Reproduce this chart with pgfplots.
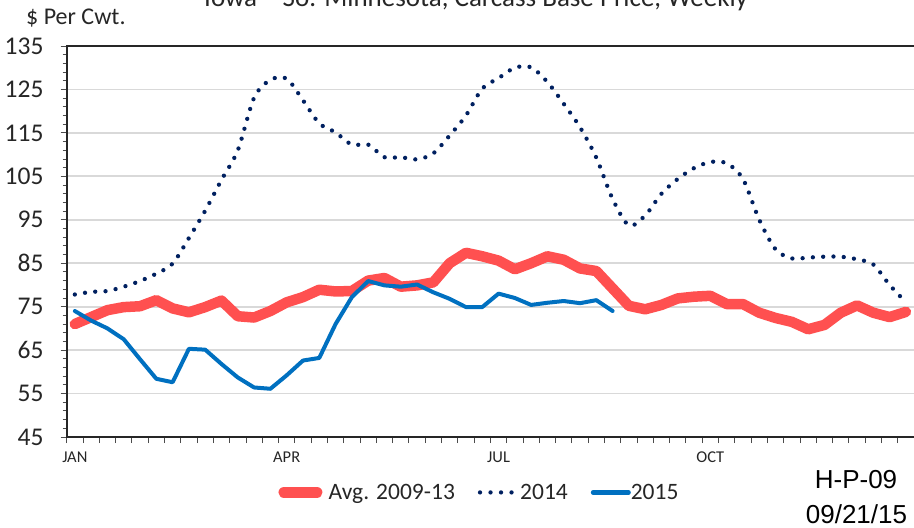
\documentclass[border=0pt]{standalone}
\usepackage{pgfplots}
\pgfplotsset{compat=1.18}
\usepackage{fontspec}
\setmainfont{Carlito}
\newfontfamily\arialfont{Liberation Sans}
\definecolor{avgred}{HTML}{FF5050}
\definecolor{navyA}{HTML}{002060}
\definecolor{blueB}{HTML}{0070C0}
\definecolor{gridgray}{HTML}{D9D9D9}
\definecolor{txt}{HTML}{262626}

\pgfplotstableread{
w v
1 71.0
2 72.6
3 74.2
4 74.9
5 75.1
6 76.5
7 74.6
8 73.7
9 74.9
10 76.4
11 72.8
12 72.5
13 74.0
14 76.0
15 77.2
16 78.9
17 78.5
18 78.6
19 81.0
20 81.6
21 79.6
22 79.9
23 80.6
24 85.0
25 87.4
26 86.6
27 85.6
28 83.6
29 85.0
30 86.6
31 85.8
32 83.8
33 83.2
34 79.2
35 75.2
36 74.4
37 75.4
38 76.9
39 77.3
40 77.5
41 75.6
42 75.6
43 73.6
44 72.4
45 71.5
46 69.8
47 70.8
48 73.6
49 75.3
50 73.6
51 72.6
52 73.8
}\avgdata

\pgfplotstableread{
w v
1 77.8
2 78.4
3 78.6
4 79.6
5 80.9
6 82.6
7 84.9
8 90.8
9 97.1
10 104.2
11 111.0
12 123.1
13 127.2
14 127.5
15 122.5
16 117.2
17 115.1
18 112.3
19 112.3
20 109.4
21 109.4
22 108.9
23 110.3
24 114.4
25 119.0
26 125.2
27 127.6
28 130.0
29 130.1
30 126.7
31 121.7
32 116.3
33 109.3
34 99.8
35 93.7
36 96.0
37 101.0
38 104.4
39 106.9
40 108.3
41 108.0
42 104.4
43 95.0
44 88.2
45 86.1
46 86.3
47 86.5
48 86.5
49 85.9
50 84.7
51 80.0
52 76.0
}\yrAdata

\pgfplotstableread{
w v
1 74.0
2 71.8
3 70.0
4 67.5
5 62.9
6 58.4
7 57.6
8 65.3
9 65.1
10 61.8
11 58.7
12 56.4
13 56.1
14 59.2
15 62.6
16 63.2
17 71.0
18 77.2
19 80.9
20 79.9
21 79.6
22 80.1
23 78.3
24 76.8
25 74.9
26 74.9
27 78.0
28 77.0
29 75.4
30 75.9
31 76.3
32 75.8
33 76.5
34 74.0
}\yrBdata

\begin{document}
\begin{tikzpicture}[x=1pt,y=1pt]
\begin{axis}[
  at={(66.7pt,91pt)}, anchor=south west,
  scale only axis, width=849pt, height=391pt,
  xmin=0.5, xmax=52.6, ymin=45, ymax=135,
  ytick={45,55,...,135},
  minor y tick num=4,
  xtick={0.5,1.5,...,52.5},
  xticklabels={},
  extra x ticks={1,14,27,40},
  extra x tick labels={JAN,APR,JUL,OCT},
  extra x tick style={major tick length=0pt},
  tick align=outside, tick pos=left,
  major tick length=6pt, minor tick length=4pt,
  tick style={black!70, line width=0.9pt},
  ymajorgrids, grid style={gridgray, line width=1.8pt},
  axis line style={txt, line width=2.2pt},
  /pgf/number format/assume math mode=true,
  yticklabel style={font=\fontsize{25.5}{30}\selectfont, text=txt, anchor=east, inner sep=0pt, xshift=-17pt},
  xticklabel style={font=\fontsize{16.5}{20}\selectfont, text=txt, anchor=base, inner sep=0pt, yshift=-25.4pt},
  legend cell align=left,
  legend style={draw=none, fill=none, inner sep=0pt, legend columns=3,
    at={(axis description cs:0.2430,-0.1458)}, anchor=west,
    font=\fontsize{23.5}{28}\selectfont, text=txt,
    cells={anchor=base west},
    nodes={inner sep=0pt},
    /tikz/every even column/.append style={column sep=21pt}},
]
\addplot[avgred, line width=10.5pt, line join=round, line cap=round,
  legend image code/.code={\draw[avgred, line width=11.5pt, line cap=round] (5.75pt,6.6pt) -- (38.25pt,6.6pt); \path (0pt,0pt) (45pt,0pt);}]
  table[x=w, y=v] {\avgdata};
\addlegendentry{Avg. 2009-13}
\addplot[navyA, line width=4.3pt, line cap=round, dash pattern=on 0pt off 10.3pt, smooth,
  legend image code/.code={\draw[navyA, line width=4.3pt, line cap=round, dash pattern=on 0pt off 10.5pt] (2pt,6.6pt) -- (34pt,6.6pt); \path (0pt,0pt) (40pt,0pt);}]
  table[x=w, y=v] {\yrAdata};
\addlegendentry{2014}
\addplot[blueB, line width=4pt, line join=round, line cap=round,
  legend image code/.code={\draw[blueB, line width=4.5pt, line cap=round] (2.25pt,6.6pt) -- (37.75pt,6.6pt); \path (0pt,0pt) (38pt,0pt);}]
  table[x=w, y=v] {\yrBdata};
\addlegendentry{2015}
\end{axis}
\node[anchor=base west, font=\fontsize{27}{32}\selectfont, text=txt, inner sep=0pt] at (204pt,521.5pt) {Iowa -- So. Minnesota, Carcass Base Price, Weekly};
\node[anchor=base west, font=\fontsize{24}{28}\selectfont, text=txt, inner sep=0pt] at (26pt,503pt) {\$ Per Cwt.};
\node[anchor=base, font=\arialfont\fontsize{26}{30}\selectfont, inner sep=0pt] at (856pt,39pt) {H-P-09};
\node[anchor=base, font=\arialfont\fontsize{26}{30}\selectfont, inner sep=0pt] at (856.5pt,5pt) {09/21/15};
\pgfresetboundingbox
\useasboundingbox (0pt,0pt) rectangle (914pt,528pt);
\end{tikzpicture}
\end{document}
